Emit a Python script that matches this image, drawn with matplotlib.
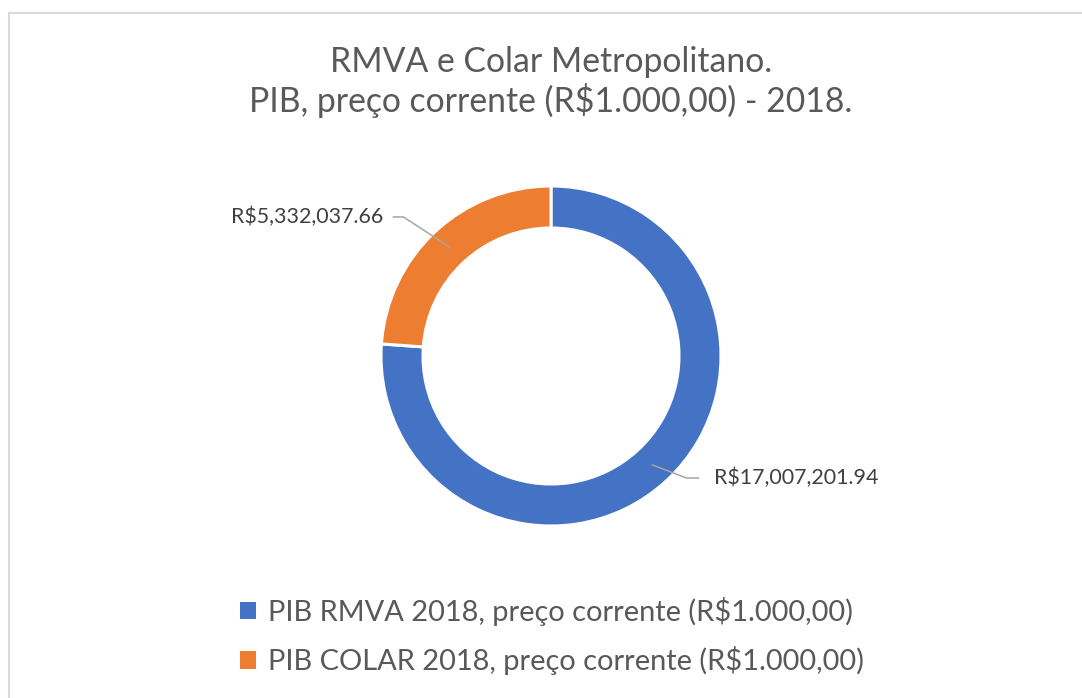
import matplotlib
matplotlib.use("Agg")
import matplotlib.pyplot as plt
import numpy as np

# ---------------- data ----------------
title_lines = ["RMVA e Colar Metropolitano.", "PIB, preço corrente (R$1.000,00) - 2018."]
series_labels = ["PIB RMVA 2018, preço corrente (R$1.000,00)",
                 "PIB COLAR 2018, preço corrente (R$1.000,00)"]
values = [17007201.94, 5332037.66]
value_labels = ["R$17,007,201.94", "R$5,332,037.66"]
colors = ["#4472C4", "#ED7D31"]

# ---------------- layout ----------------
W, H = 1082, 698
plt.rcParams['font.family'] = ['Lato', 'DejaVu Sans']
fig = plt.figure(figsize=(W / 100, H / 100), dpi=100)
ax = fig.add_axes([0, 0, 1, 1])
renderer = fig.canvas.get_renderer()


def fit_size(text, target_px, base=20.0):
    t = fig.text(0, 0, text, fontsize=base)
    w = t.get_window_extent(renderer).width
    t.remove()
    return base * target_px / w


def Y(y_px):
    return H - y_px


# chart-area border (light gray)
ax.plot([8.5, 8.5, W + 5], [-5, Y(13), Y(13)], color="#d9d9d9", lw=1.5,
        solid_joinstyle="miter", zorder=0)

# donut
cx, cy = 551, Y(356)
R, ring = 170, 42
wedges, _ = ax.pie(values, colors=colors, startangle=90, counterclock=False,
                   radius=R, center=(cx, cy), frame=True,
                   wedgeprops=dict(width=ring, edgecolor="white", linewidth=2.2))

# title
title_fs = fit_size(title_lines[1], 605)
ax.text(cx, Y(62), title_lines[0], ha="center", va="center", fontsize=title_fs, color="#595959")
ax.text(cx, Y(100), title_lines[1], ha="center", va="center", fontsize=title_fs, color="#595959")

# data labels with leader lines
label_fs = fit_size(value_labels[0], 165)
elbow_offsets = [(34, -13), (-46, 30)]
tail = [12, -10]
gap = [15, -10]
for w, lab, (ex, ey), tl, gp in zip(wedges, value_labels, elbow_offsets, tail, gap):
    th = np.deg2rad((w.theta1 + w.theta2) / 2)
    rm = R - ring / 2
    px, py = cx + rm * np.cos(th), cy + rm * np.sin(th)
    ex_, ey_ = px + ex, py + ey
    ax.plot([px, ex_, ex_ + tl], [py, ey_, ey_], color="#a6a6a6", lw=1.1, zorder=5)
    ax.text(ex_ + tl + gp, ey_, lab, ha="left" if tl > 0 else "right", va="center",
            fontsize=label_fs, color="#404040")

# legend
leg_fs = fit_size(series_labels[0], 587)
leg = ax.legend(wedges, series_labels, loc="center", bbox_to_anchor=(552, Y(636)),
                bbox_transform=ax.transData, frameon=False, fontsize=leg_fs,
                handlelength=0.55, handleheight=0.55, handletextpad=0.4,
                labelspacing=0.72, borderpad=0, labelcolor="#595959")
for h in leg.legend_handles:
    h.set_edgecolor("none")

ax.set_xlim(0, W)
ax.set_ylim(0, H)
ax.set_aspect("equal")
ax.axis("off")

fig.savefig("out.png", dpi=100, facecolor="white")
